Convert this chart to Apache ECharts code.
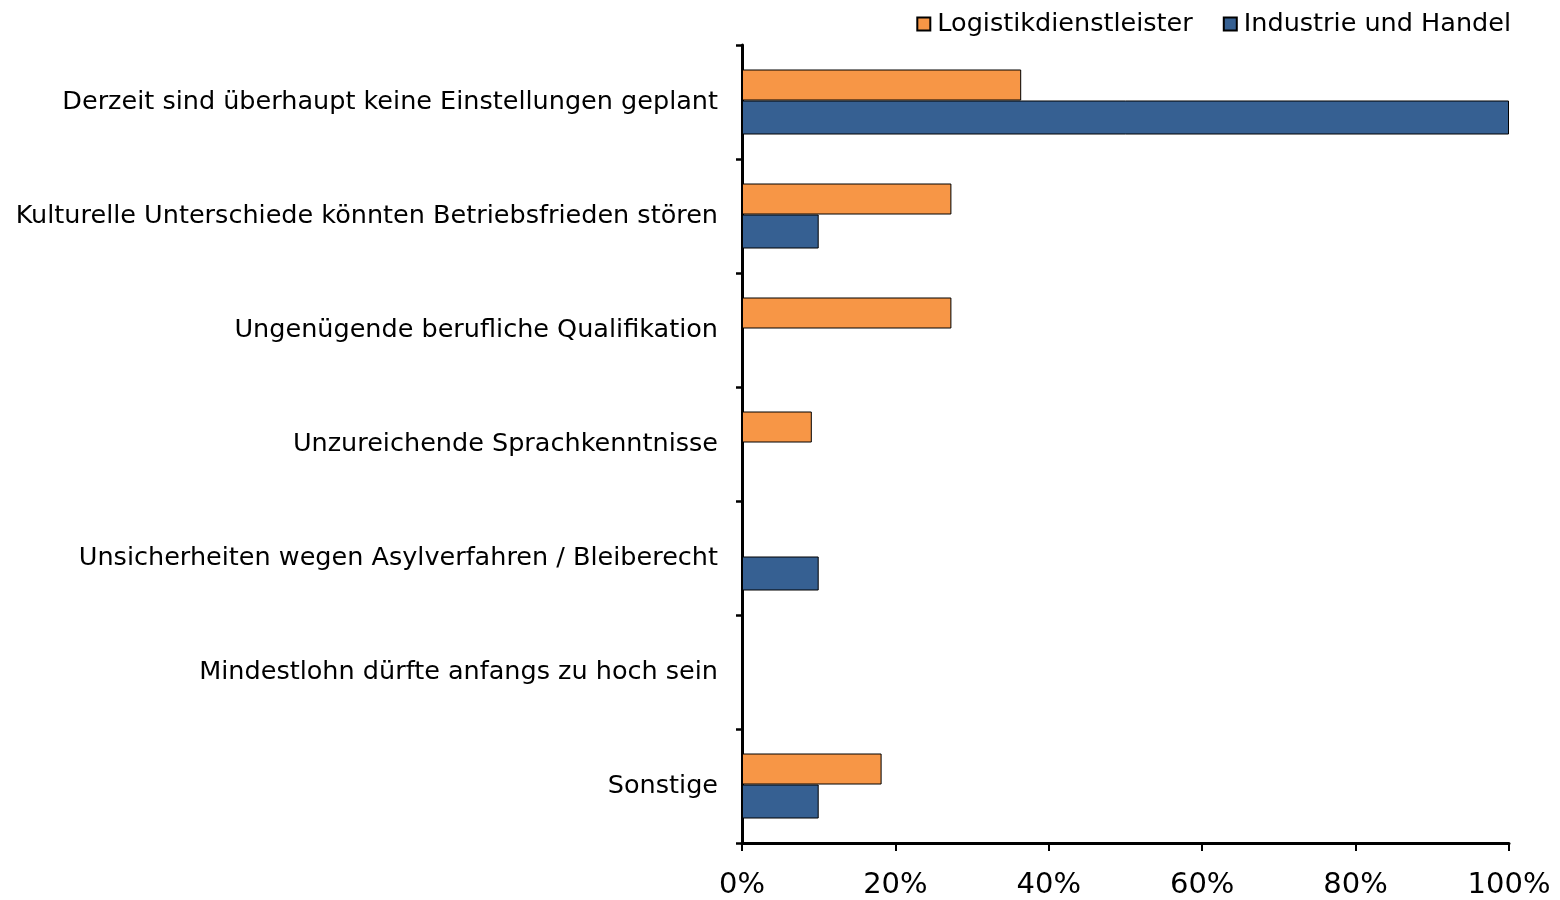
<!DOCTYPE html>
<html>
<head>
<meta charset="utf-8">
<script src="https://cdn.jsdelivr.net/npm/echarts@6/dist/echarts.min.js"></script>
<style>
  html, body { margin: 0; padding: 0; background: #fff; }
  #chart { width: 1560px; height: 900px; }
</style>
</head>
<body>
<div id="chart"></div>
<script>
// Kategorien (von oben nach unten)
const categories = [
  'Derzeit sind überhaupt keine Einstellungen geplant',
  'Kulturelle Unterschiede könnten Betriebsfrieden stören',
  'Ungenügende berufliche Qualifikation',
  'Unzureichende Sprachkenntnisse',
  'Unsicherheiten wegen Asylverfahren / Bleiberecht',
  'Mindestlohn dürfte anfangs zu hoch sein',
  'Sonstige'
]
const seriesNames = ['Logistikdienstleister', 'Industrie und Handel']
const logistikValues = [36.4, 27.3, 27.3, 9.1, 0, 0, 18.2]
const industrieValues = [100, 10, 0, 0, 10, 0, 10]
const xTicks = [0, 20, 40, 60, 80, 100]

const font = 'DejaVu Sans'
const chart = echarts.init(document.getElementById('chart'))

const option = {
  animation: false,
  textStyle: { fontFamily: font, color: '#000' },
  legend: {
    data: seriesNames,
    right: 44,
    top: 6,
    icon: 'rect',
    itemWidth: 13,
    itemHeight: 13,
    itemGap: 30,
    textStyle: { fontFamily: font, fontSize: 25.5, color: '#000', padding: [0, 0, 0, 2] }
  },
  grid: {
    left: 742,
    right: 51,
    top: 45,
    bottom: 55
  },
  xAxis: {
    type: 'value',
    min: xTicks[0],
    max: xTicks[xTicks.length - 1],
    interval: 20,
    splitLine: { show: false },
    axisLine: { show: true, lineStyle: { color: '#000', width: 3 } },
    axisTick: { show: true, length: 8, lineStyle: { color: '#000', width: 2 } },
    axisLabel: {
      formatter: v => v + '%',
      fontFamily: font,
      fontSize: 29,
      color: '#000',
      margin: 28
    }
  },
  yAxis: {
    type: 'category',
    data: categories,
    inverse: true,
    axisLine: { show: true, lineStyle: { color: '#000', width: 3 } },
    axisTick: { show: true, length: 6, lineStyle: { color: '#000', width: 2.5 } },
    axisLabel: {
      fontFamily: font,
      fontSize: 25.5,
      color: '#000',
      margin: 24,
      padding: [8, 0, 0, 0]
    }
  },
  series: [
    {
      name: seriesNames[0],
      type: 'bar',
      data: logistikValues,
      barWidth: 31,
      barGap: '0%',
      itemStyle: { color: '#F79646', borderColor: '#000', borderWidth: 1 }
    },
    {
      name: seriesNames[1],
      type: 'bar',
      data: industrieValues,
      barWidth: 34,
      itemStyle: { color: '#366092', borderColor: '#000', borderWidth: 1 }
    }
  ]
}

chart.setOption(option)
</script>
</body>
</html>
